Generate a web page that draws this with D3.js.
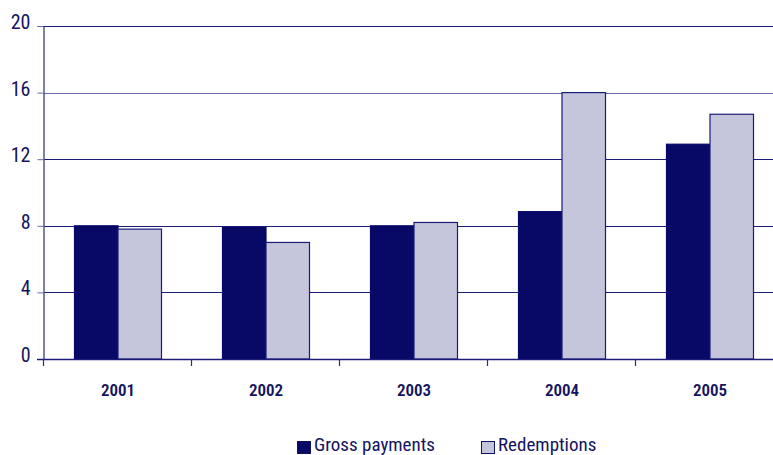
<!DOCTYPE html>
<html>
<head>
<meta charset="utf-8">
<script src="https://cdn.jsdelivr.net/npm/d3@7"></script>
<style>
  html, body { margin: 0; padding: 0; background: #fff; }
  svg { display: block; }
  text { font-family: "Liberation Sans Narrow", "Arial Narrow", "Roboto Condensed", "Liberation Sans", sans-serif; fill: #14145e; }
</style>
</head>
<body>
<svg id="chart" width="773" height="455"></svg>
<script>
const years = ["2001", "2002", "2003", "2004", "2005"];
const grossPayments = [8.0, 7.9, 8.0, 8.85, 12.9];
const redemptions = [7.8, 7.0, 8.2, 16.0, 14.7];
const yTicks = [0, 4, 8, 12, 16, 20];
const seriesNames = ["Gross payments", "Redemptions"];
const seriesColors = ["#080866", "#c5c6dc"];

const navy = "#14145e";
const svg = d3.select("#chart");

const x = d3.scaleBand().domain(years).range([44, 784]).paddingInner(0).paddingOuter(0);
const y = d3.scaleLinear().domain([0, 20]).range([359, 26]);
const barW = 43.5;

// gridlines
svg.append("g").selectAll("line").data(yTicks.filter(d => d > 0)).join("line")
  .attr("x1", 44).attr("x2", 773)
  .attr("y1", d => Math.round(y(d)) + 0.5).attr("y2", d => Math.round(y(d)) + 0.5)
  .attr("stroke", d => d === 16 ? "#6a6aa4" : "#1c1c78").attr("stroke-width", 1.2);

// bars
const series = [grossPayments, redemptions];
series.forEach((vals, si) => {
  svg.append("g").selectAll("rect").data(years).join("rect")
    .attr("x", (d) => x(d) + x.bandwidth() / 2 - barW + si * barW)
    .attr("y", (d, i) => y(vals[i]))
    .attr("width", barW)
    .attr("height", (d, i) => y(0) - y(vals[i]))
    .attr("fill", seriesColors[si])
    .attr("stroke", si === 0 ? "#080866" : "#1c1c78")
    .attr("stroke-width", 1.2);
});

// y axis
const yAxis = d3.axisLeft(y).tickValues(yTicks).tickSize(6).tickFormat(d3.format("d"));
const gy = svg.append("g").attr("transform", "translate(43.5,0)").call(yAxis);
gy.select(".domain").attr("stroke", "#2a2a80").attr("stroke-width", 1.2);
gy.selectAll(".tick line").attr("stroke", "#6a6aa4");
gy.selectAll(".tick text").attr("x", -13).attr("dy", "0.12em")
  .style("font-size", "20px").style("fill", navy);

// x axis baseline and separators
svg.append("line").attr("x1", 37).attr("x2", 773).attr("y1", 359.5).attr("y2", 359.5)
  .attr("stroke", "#1c1c78").attr("stroke-width", 1.4);
const bounds = years.map(d => x(d));
svg.append("g").selectAll("line").data(bounds).join("line")
  .attr("x1", d => Math.round(d) - 0.5).attr("x2", d => Math.round(d) - 0.5)
  .attr("y1", 359).attr("y2", 366)
  .attr("stroke", "#2a2a80").attr("stroke-width", 1.2);

svg.append("g").selectAll("text").data(years).join("text")
  .attr("x", d => x(d) + x.bandwidth() / 2)
  .attr("y", 396)
  .attr("text-anchor", "middle")
  .style("font-size", "17px")
  .style("font-weight", "600")
  .text(d => d);

// legend
const legendX = [297, 481];
const lg = svg.append("g");
seriesNames.forEach((name, i) => {
  lg.append("rect").attr("x", legendX[i] + 0.5).attr("y", 441.5).attr("width", 13).attr("height", 12)
    .attr("fill", seriesColors[i]).attr("stroke", "#14145e").attr("stroke-width", 1);
  lg.append("text").attr("x", legendX[i] + 17).attr("y", 451)
    .style("font-size", "19px").text(name);
});
</script>
</body>
</html>
